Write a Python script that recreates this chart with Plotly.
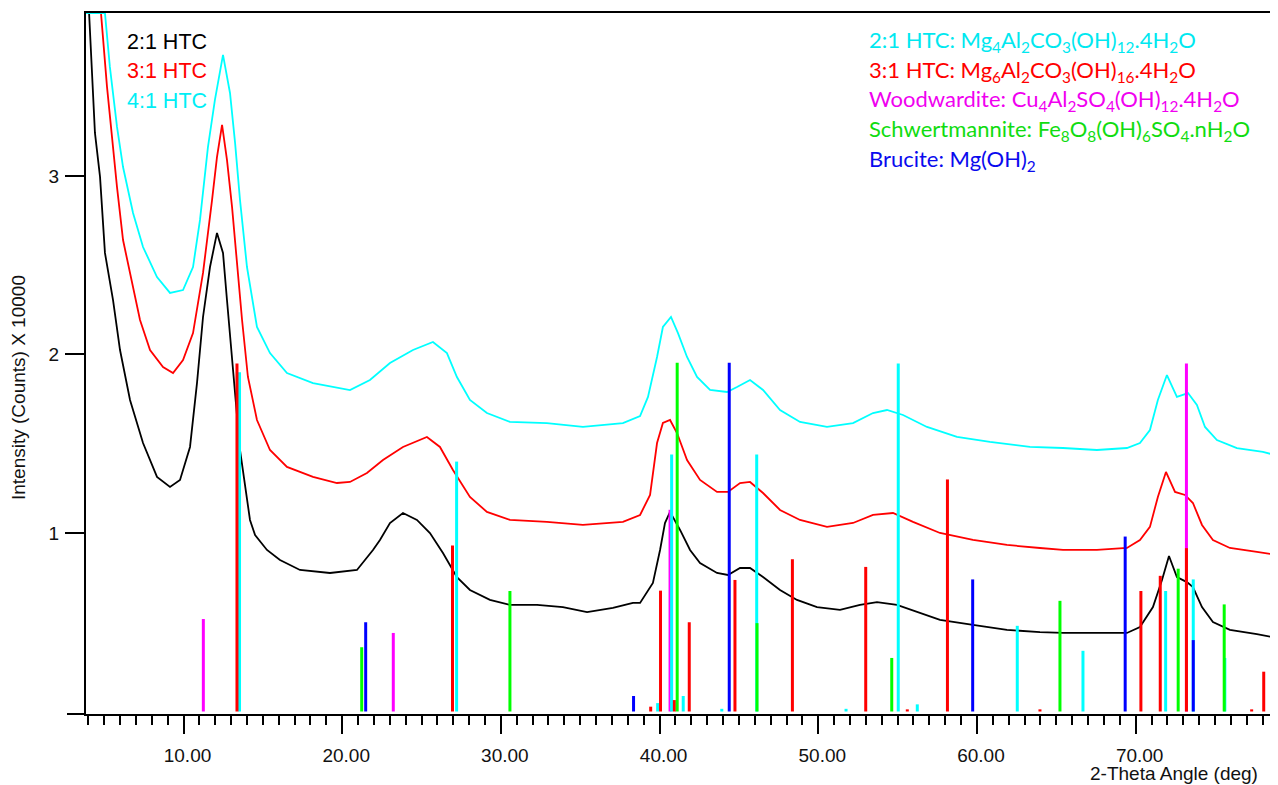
import plotly.graph_objects as go

# ---------------- XRD patterns (2-theta in deg, intensity in counts x 10000) -------------
two_theta_21 = [3.86, 4.05, 4.42, 4.74, 5.05, 5.56, 6.00, 6.63, 7.45, 8.33, 9.15, 9.78, 10.41, 10.85,
                11.23, 11.67, 12.11, 12.49, 12.74, 13.12, 13.56, 14.19, 14.51, 15.26, 16.08, 17.34,
                19.23, 20.93, 21.94, 22.38, 23.01, 23.83, 24.71, 25.53, 26.35, 27.23, 28.05, 29.31,
                30.57, 32.28, 33.91, 35.43, 37.06, 38.32, 38.77, 39.58, 40.03, 40.34, 40.66, 41.29,
                41.92, 42.55, 43.62, 44.31, 45.07, 45.70, 46.52, 47.59, 48.66, 49.92, 51.37, 52.63,
                53.70, 54.96, 56.22, 57.67, 59.75, 61.89, 63.97, 65.42, 67.56, 69.45, 70.27, 71.09,
                71.66, 72.10, 72.60, 73.23, 73.61, 74.18, 74.87, 75.94, 77.64, 78.90]
intensity_21 = [3.913, 3.913, 3.241, 2.995, 2.569, 2.305, 2.025, 1.745, 1.504, 1.314, 1.258, 1.297,
                1.482, 1.840, 2.210, 2.490, 2.681, 2.569, 2.305, 1.930, 1.465, 1.073, 0.989, 0.905,
                0.849, 0.793, 0.776, 0.793, 0.905, 0.961, 1.056, 1.112, 1.073, 1.000, 0.888, 0.753,
                0.681, 0.625, 0.597, 0.597, 0.585, 0.557, 0.580, 0.608, 0.608, 0.720, 0.905, 1.056,
                1.118, 1.017, 0.905, 0.832, 0.776, 0.765, 0.804, 0.804, 0.753, 0.681, 0.625, 0.585,
                0.569, 0.597, 0.613, 0.597, 0.557, 0.513, 0.485, 0.457, 0.445, 0.440, 0.440, 0.440,
                0.473, 0.585, 0.737, 0.871, 0.753, 0.725, 0.697, 0.585, 0.501, 0.457, 0.434, 0.412]

two_theta_31 = [3.86, 4.80, 5.18, 5.50, 5.81, 6.19, 6.63, 7.26, 7.89, 8.71, 9.34, 9.97, 10.60, 11.23,
                11.80, 12.11, 12.43, 12.74, 13.06, 13.37, 13.69, 14.06, 14.63, 15.45, 16.52, 18.16,
                19.67, 20.49, 21.56, 22.57, 23.83, 25.34, 26.16, 26.98, 28.05, 29.12, 30.57, 32.90,
                35.17, 37.69, 38.77, 39.40, 39.84, 40.21, 40.66, 41.10, 41.73, 42.55, 43.62, 44.31,
                45.07, 45.70, 46.52, 47.59, 48.85, 50.55, 52.19, 53.45, 54.71, 55.97, 57.67, 59.75,
                61.89, 63.97, 65.42, 67.56, 69.45, 70.27, 70.90, 71.40, 71.91, 72.48, 73.11, 73.61,
                74.18, 74.87, 75.94, 77.64, 78.90]
intensity_31 = [3.913, 3.913, 3.499, 3.202, 2.938, 2.641, 2.457, 2.193, 2.025, 1.930, 1.896, 1.969,
                2.120, 2.457, 2.866, 3.106, 3.286, 3.090, 2.826, 2.490, 2.193, 1.874, 1.633, 1.465,
                1.370, 1.314, 1.280, 1.286, 1.336, 1.409, 1.482, 1.538, 1.482, 1.353, 1.202, 1.118,
                1.073, 1.062, 1.045, 1.062, 1.101, 1.213, 1.504, 1.616, 1.633, 1.560, 1.409, 1.297,
                1.230, 1.230, 1.280, 1.286, 1.224, 1.129, 1.073, 1.034, 1.056, 1.101, 1.112, 1.062,
                1.000, 0.961, 0.933, 0.916, 0.905, 0.905, 0.916, 0.961, 1.034, 1.202, 1.342, 1.230,
                1.213, 1.168, 1.045, 0.961, 0.916, 0.894, 0.877]

two_theta_41 = [3.86, 5.05, 5.36, 5.81, 6.19, 6.82, 7.45, 8.33, 9.15, 9.97, 10.60, 11.04, 11.54, 11.98,
                12.49, 12.93, 13.25, 13.56, 14.00, 14.63, 15.45, 16.52, 18.16, 19.67, 20.49, 21.75,
                23.01, 24.46, 25.72, 26.60, 27.23, 28.05, 29.12, 30.57, 32.90, 35.17, 37.69, 38.77,
                39.27, 39.84, 40.21, 40.72, 41.16, 41.73, 42.36, 43.18, 44.25, 44.88, 45.70, 46.52,
                47.59, 48.85, 50.55, 52.19, 53.45, 54.33, 55.34, 56.85, 58.74, 60.82, 63.34, 65.42,
                67.56, 69.45, 70.27, 70.90, 71.40, 71.97, 72.60, 73.30, 73.86, 74.37, 75.12, 76.38,
                78.02, 78.90]
intensity_41 = [3.913, 3.913, 3.611, 3.275, 3.050, 2.793, 2.602, 2.434, 2.345, 2.361, 2.490, 2.754,
                3.162, 3.426, 3.678, 3.465, 3.185, 2.866, 2.490, 2.154, 2.008, 1.896, 1.840, 1.812,
                1.801, 1.857, 1.952, 2.025, 2.070, 2.008, 1.874, 1.745, 1.672, 1.622, 1.616, 1.594,
                1.616, 1.655, 1.762, 1.986, 2.154, 2.210, 2.120, 1.986, 1.874, 1.801, 1.790, 1.818,
                1.857, 1.801, 1.689, 1.622, 1.594, 1.616, 1.672, 1.689, 1.661, 1.594, 1.538, 1.510,
                1.482, 1.476, 1.465, 1.476, 1.504, 1.577, 1.745, 1.885, 1.762, 1.784, 1.717, 1.594,
                1.521, 1.476, 1.454, 1.434]

# ---------------- Reference patterns (stick positions and heights) ----------------
htc21_pos = [13.53, 27.21, 39.88, 40.76, 41.49, 43.92, 46.12, 51.75, 55.04, 56.24, 62.54, 66.68,
             71.89, 73.63, 75.62, 78.61]
htc21_h = [1.90, 1.40, 0.047, 1.44, 0.087, 0.015, 1.44, 0.015, 1.95, 0.04, 0.48, 0.34,
           0.675, 0.74, 0.30, 0.24]

htc31_pos = [13.37, 26.95, 39.44, 40.06, 40.93, 41.87, 44.75, 48.37, 52.99, 55.61, 58.14, 63.97,
             70.33, 71.55, 73.20, 77.31, 78.07]
htc31_h = [1.95, 0.93, 0.027, 0.677, 0.064, 0.50, 0.737, 0.853, 0.81, 0.012, 1.30, 0.012,
           0.675, 0.76, 0.915, 0.012, 0.223]

wood_pos = [11.25, 23.22, 40.66, 73.20]
wood_h = [0.518, 0.44, 1.13, 1.95]

schw_pos = [21.23, 30.57, 41.11, 46.14, 54.63, 65.23, 72.68, 75.58]
schw_h = [0.36, 0.675, 1.954, 0.495, 0.30, 0.62, 0.80, 0.60]

bruc_pos = [21.48, 38.36, 44.39, 59.73, 69.34, 73.63]
bruc_h = [0.50, 0.087, 1.954, 0.74, 0.98, 0.40]

x_major_ticks = [10, 20, 30, 40, 50, 60, 70]
y_ticks = [1, 2, 3]

sample_labels = ["2:1 HTC", "3:1 HTC", "4:1 HTC"]
phase_labels = [
    "2:1 HTC: Mg<sub>4</sub>Al<sub>2</sub>CO<sub>3</sub>(OH)<sub>12</sub>.4H<sub>2</sub>O",
    "3:1 HTC: Mg<sub>6</sub>Al<sub>2</sub>CO<sub>3</sub>(OH)<sub>16</sub>.4H<sub>2</sub>O",
    "Woodwardite: Cu<sub>4</sub>Al<sub>2</sub>SO<sub>4</sub>(OH)<sub>12</sub>.4H<sub>2</sub>O",
    "Schwertmannite: Fe<sub>8</sub>O<sub>8</sub>(OH)<sub>6</sub>SO<sub>4</sub>.nH<sub>2</sub>O",
    "Brucite: Mg(OH)<sub>2</sub>",
]

BLACK = "#000000"
RED = "#FF0000"
CYAN = "#00FFFF"
MAGENTA = "#FF00FF"
GREEN = "#00FF00"
BLUE = "#0000FF"

X_RANGE = [3.856, 78.97]
Y_RANGE = [-0.014, 3.913]

fig = go.Figure()

for xs, ys, col in [(two_theta_21, intensity_21, BLACK),
                    (two_theta_31, intensity_31, RED),
                    (two_theta_41, intensity_41, CYAN)]:
    fig.add_trace(go.Scatter(x=xs, y=ys, mode="lines", line=dict(color=col, width=1.8),
                             hoverinfo="skip", showlegend=False))


def sticks(pos, h):
    xs, ys = [], []
    for p, v in zip(pos, h):
        xs += [p, p, None]
        ys += [0, v, None]
    return xs, ys


for pos, h, col in [(wood_pos, wood_h, MAGENTA),
                    (htc21_pos, htc21_h, CYAN),
                    (htc31_pos, htc31_h, RED),
                    (schw_pos, schw_h, GREEN),
                    (bruc_pos, bruc_h, BLUE)]:
    sx, sy = sticks(pos, h)
    fig.add_trace(go.Scatter(x=sx, y=sy, mode="lines", line=dict(color=col, width=3),
                             hoverinfo="skip", showlegend=False))

# The page body adds an 8px margin, so figure coords = screen coords - 8
OFF = 8
W, H = 1278, 785
L, R, T, B = 78, 8, 5, 79
PW, PH = W - L - R, H - T - B


def px_to_paper(sx, sy):
    fx, fy = sx - OFF, sy - OFF
    return (fx - L) / PW, (H - B - fy) / PH


annotations = []
# sample labels (top-left)
for i, (txt, col) in enumerate(zip(sample_labels, [BLACK, RED, "#00EEF5"])):
    ax, ay = px_to_paper(125, 42 + 29.3 * i)
    annotations.append(dict(text=txt, x=ax, y=ay, xref="paper", yref="paper",
                            xanchor="left", yanchor="middle", showarrow=False,
                            font=dict(family="Liberation Sans, Arial", size=21.5, color=col)))

# phase labels (top-right)
phase_cols = ["#00E8F0", RED, "#F000F0", "#10DC10", "#0A0AEE"]
for i, (txt, col) in enumerate(zip(phase_labels, phase_cols)):
    ax, ay = px_to_paper(867, 41 + 29.7 * i)
    annotations.append(dict(text=txt, x=ax, y=ay, xref="paper", yref="paper",
                            xanchor="left", yanchor="middle", showarrow=False,
                            font=dict(family="Lato, Open Sans", size=22, color=col)))

# axis titles
ax, ay = px_to_paper(1174, 785)
annotations.append(dict(text="2-Theta Angle (deg)", x=ax, y=ay, xref="paper", yref="paper",
                        xanchor="center", yanchor="bottom", showarrow=False, borderpad=0,
                        font=dict(family="Liberation Sans, Arial", size=19, color="#111111")))
ax, ay = px_to_paper(18, 388)
annotations.append(dict(text="Intensity (Counts) X 10000", x=ax, y=ay, xref="paper", yref="paper",
                        xanchor="center", yanchor="middle", showarrow=False, textangle=-90,
                        font=dict(family="Liberation Sans, Arial", size=19, color="#111111")))

fig.update_layout(
    width=W, height=H,
    margin=dict(l=L, r=R, t=T, b=B, pad=0, autoexpand=False),
    paper_bgcolor="white", plot_bgcolor="white",
    showlegend=False,
    annotations=annotations,
    shapes=[dict(type="line", xref="paper", yref="paper", x0=(67 - OFF - L) / PW, x1=0, y0=0, y1=0,
                 line=dict(color="black", width=2))],
)

fig.update_xaxes(
    range=X_RANGE, showgrid=False, zeroline=False, automargin=False,
    showline=True, linecolor="black", linewidth=2, mirror=True,
    tickmode="array", tickvals=x_major_ticks, tickformat=".2f",
    ticks="outside", ticklen=18, tickwidth=1.5, tickcolor="black",
    ticklabelshift=4, ticklabelstandoff=5,
    tickfont=dict(family="Liberation Sans, Arial", size=19, color="#111111"),
    minor=dict(tickmode="linear", tick0=0, dtick=1, ticks="outside", ticklen=9,
               tickwidth=1.5, tickcolor="black", showgrid=False),
)
fig.update_yaxes(
    range=Y_RANGE, showgrid=False, zeroline=False, automargin=False,
    showline=True, linecolor="black", linewidth=2,
    tickmode="array", tickvals=y_ticks,
    ticks="outside", ticklen=19, tickwidth=1.5, tickcolor="black",
    ticklabelstandoff=2,
    tickfont=dict(family="Liberation Sans, Arial", size=19, color="#111111"),
)

fig.write_html("out.html")
